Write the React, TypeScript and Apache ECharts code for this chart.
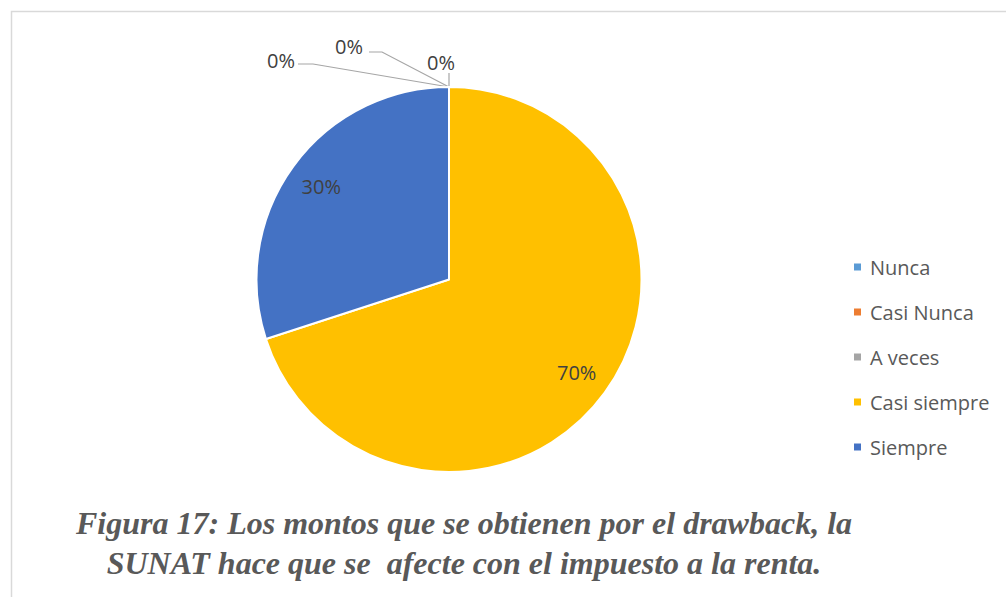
import React, { useEffect, useRef } from "react";
import * as echarts from "echarts";

const categories = ["Nunca", "Casi Nunca", "A veces", "Casi siempre", "Siempre"];
const values = [0, 0, 0, 70, 30];
const colors = ["#5B9BD5", "#ED7D31", "#A5A5A5", "#FFC000", "#4472C4"];
const titleLines = [
  "Figura 17: Los montos que se obtienen por el drawback, la",
  "SUNAT hace que se  afecte con el impuesto a la renta.",
];

const CX = 449;
const CY = 279.5;
const R = 192.5;
// offsets (relative to top of pie) for the zero-value labels and their leader elbows
const zeroLabelOffsets = [
  { label: [-8, -25], elbow: [0, -14], end: [0, -14] },
  { label: [-100, -41], elbow: [-67, -35], end: [-80, -35] },
  { label: [-168, -27], elbow: [-136, -23], end: [-151, -23] },
];

export default function App() {
  const ref = useRef<HTMLDivElement>(null);
  useEffect(() => {
    if (!ref.current) return;
    const chart = echarts.init(ref.current, undefined, { renderer: "svg" });
    const labelFont = "'Open Sans', 'Noto Sans', sans-serif";
    const topX = CX;
    const topY = CY - R;
    chart.setOption({
      animation: false,
      backgroundColor: "#ffffff",
      color: colors,
      legend: {
        orient: "vertical",
        left: 847,
        top: 252,
        itemWidth: 9,
        itemHeight: 9,
        itemGap: 25,
        icon: "rect",
        data: categories,
        textStyle: {
          color: "#595959",
          fontSize: 20,
          fontFamily: labelFont,
          padding: [0, 0, 0, 3],
        },
      },
      graphic: [
        {
          type: "rect",
          silent: true,
          z: -10,
          shape: { x: 11.5, y: 11.5, width: 1200, height: 800 },
          style: { fill: "none", stroke: "#d9d9d9", lineWidth: 1.5 },
        },
        {
          type: "text",
          x: 464,
          y: 503,
          style: {
            text: titleLines.join("\n"),
            textAlign: "center",
            textVerticalAlign: "top",
            fill: "#595959",
            fontFamily: "'Liberation Serif', 'Times New Roman', serif",
            fontStyle: "italic",
            fontWeight: "bold",
            fontSize: 32,
            lineHeight: 40,
          },
        },
      ],
      series: [
        {
          type: "pie",
          center: [CX, CY],
          radius: [0, R],
          startAngle: 90,
          clockwise: true,
          avoidLabelOverlap: false,
          minShowLabelAngle: 0,
          itemStyle: { borderColor: "#ffffff", borderWidth: 2 },
          label: {
            show: true,
            position: "inside",
            color: "#404040",
            fontSize: 20,
            fontFamily: labelFont,
            formatter: (p: any) => Math.round(p.percent) + "%",
          },
          labelLine: { show: false },
          labelLayout: (p: any) => {
            const i = p.dataIndex;
            if (values[i] > 0) {
              const lr = p.labelRect;
              const lx = lr.x + lr.width / 2;
              const ly = lr.y + lr.height / 2;
              const dx = lx - CX;
              const dy = ly - CY;
              const d = Math.hypot(dx, dy) || 1;
              const t = R * 0.82;
              return {
                x: CX + (dx / d) * t,
                y: CY + (dy / d) * t,
                align: "center",
                verticalAlign: "middle",
              };
            }
            const o = zeroLabelOffsets[i];
            return {
              x: topX + o.label[0],
              y: topY + o.label[1],
              align: "center",
              verticalAlign: "middle",
              labelLinePoints: [
                [topX, topY],
                [topX + o.elbow[0], topY + o.elbow[1]],
                [topX + o.end[0], topY + o.end[1]],
              ],
            };
          },
          data: categories.map((name, i) =>
            values[i] > 0
              ? { name, value: values[i] }
              : {
                  name,
                  value: values[i],
                  label: { position: "outside", color: "#404040" },
                  labelLine: {
                    show: true,
                    lineStyle: { color: "#a6a6a6", width: 1.2 },
                  },
                }
          ),
        },
      ],
    });
    return () => chart.dispose();
  }, []);
  return (
    <div
      ref={ref}
      style={{ position: "fixed", left: 0, top: 0, width: 1006, height: 597 }}
    />
  );
}
